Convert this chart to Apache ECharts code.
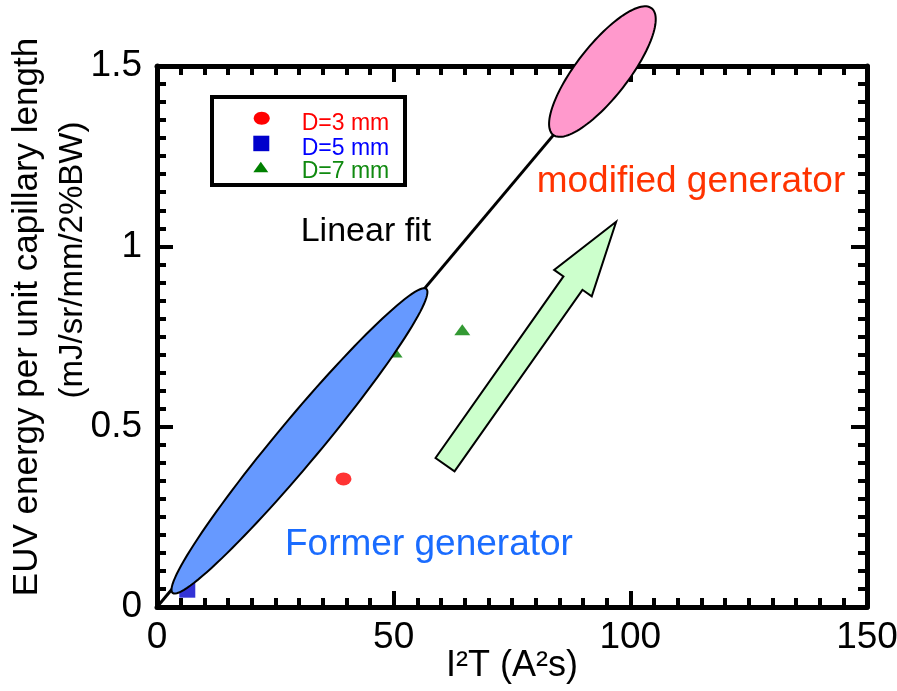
<!DOCTYPE html>
<html><head><meta charset="utf-8">
<script src="https://cdn.jsdelivr.net/npm/echarts@6/dist/echarts.min.js"></script>
<style>html,body{margin:0;padding:0;background:#fff}#c{width:897px;height:691px}</style>
</head><body><div id="c"></div>
<script>
// ---- data ----
const seriesD3 = [[39.4, 0.355]];
const seriesD5 = [[6.4, 0.048]];
const seriesD7 = [[50.2, 0.707], [64.5, 0.769]];
const linearFit = [[0, 0], [90, 1.406]];
const formerRegion = [3.3, 0.039, 56.9, 0.882];     // major-axis ends (x1,y1,x2,y2)
const modifiedRegion = [83.7, 1.309, 104.5, 1.660];
const improvementArrow = [60.85, 0.3945, 97.0, 1.068]; // tail -> tip
const xRange = [0, 150];
const yRange = [0, 1.5];
const legendNames = ['D=3 mm', 'D=5 mm', 'D=7 mm'];

const SANS = "'Liberation Sans',Arial,Helvetica,sans-serif";

const chart = echarts.init(document.getElementById('c'), null, {renderer: 'canvas'});

function axisCommon() {
  return {
    axisLine: {show: true, onZero: false, lineStyle: {color: '#000', width: 5}},
    axisTick: {show: true, inside: true, length: 16, lineStyle: {color: '#000', width: 4}},
    minorTick: {show: true, splitNumber: 10, length: 9, lineStyle: {color: '#000', width: 4}},
    splitLine: {show: false},
    minorSplitLine: {show: false}
  };
}

function ellipseRender(minorPx, fill) {
  return function (params, api) {
    const p1 = api.coord([api.value(0), api.value(1)]);
    const p2 = api.coord([api.value(2), api.value(3)]);
    const cx = (p1[0] + p2[0]) / 2, cy = (p1[1] + p2[1]) / 2;
    const dx = p2[0] - p1[0], dy = p2[1] - p1[1];
    const L = Math.sqrt(dx * dx + dy * dy);
    const ux = dx / L, uy = dy / L, nx = -uy, ny = ux;
    const a = L / 2, b = minorPx;
    const pts = [];
    for (let i = 0; i < 120; i++) {
      const t = i / 120 * Math.PI * 2;
      const ca = Math.cos(t) * a, sb = Math.sin(t) * b;
      pts.push([cx + ux * ca + nx * sb, cy + uy * ca + ny * sb]);
    }
    return {type: 'polygon', shape: {points: pts},
      style: {fill: fill, stroke: '#000', lineWidth: 2}};
  };
}

function arrowRender(params, api) {
  const p0 = api.coord([api.value(0), api.value(1)]);
  const p1 = api.coord([api.value(2), api.value(3)]);
  const dx = p1[0] - p0[0], dy = p1[1] - p0[1];
  const L = Math.sqrt(dx * dx + dy * dy);
  const ux = dx / L, uy = dy / L, nx = -uy, ny = ux;
  const w = 11.6, H = 23, headLen = 75;
  const nk = [p1[0] - ux * headLen, p1[1] - uy * headLen];
  const pts = [
    [p0[0] + nx * w, p0[1] + ny * w],
    [nk[0] + nx * w, nk[1] + ny * w],
    [nk[0] + nx * H, nk[1] + ny * H],
    [p1[0], p1[1]],
    [nk[0] - nx * H, nk[1] - ny * H],
    [nk[0] - nx * w, nk[1] - ny * w],
    [p0[0] - nx * w, p0[1] - ny * w]
  ];
  return {type: 'polygon', shape: {points: pts},
    style: {fill: '#ccffcc', stroke: '#000', lineWidth: 2}};
}

const ELLIPSE_SYMBOL = 'path://M0 50A50 50 0 1 1 100 50A50 50 0 1 1 0 50Z';

const option = {
  animation: false,
  backgroundColor: '#fff',
  grid: {left: 157, right: 30, top: 66, bottom: 84, containLabel: false, outerBoundsMode: 'none'},
  xAxis: [
    Object.assign({
      type: 'value', min: xRange[0], max: xRange[1], interval: 50, position: 'bottom',
      name: 'I²T (A²s)', nameLocation: 'middle', nameGap: 41, nameMoveOverlap: false,
      nameTextStyle: {fontFamily: SANS, fontSize: 36, color: '#000'},
      axisLabel: {show: true, margin: 12, fontFamily: SANS, fontSize: 37, color: '#000'}
    }, axisCommon()),
    Object.assign({
      type: 'value', min: xRange[0], max: xRange[1], interval: 50, position: 'top',
      axisLabel: {show: false}
    }, axisCommon())
  ],
  yAxis: [
    Object.assign({
      type: 'value', min: yRange[0], max: yRange[1], interval: 0.5, position: 'left',
      axisLabel: {show: true, margin: 15, fontFamily: SANS, fontSize: 37, color: '#000'}
    }, axisCommon()),
    Object.assign({
      type: 'value', min: yRange[0], max: yRange[1], interval: 0.5, position: 'right',
      axisLabel: {show: false}
    }, axisCommon())
  ],
  series: [
    {type: 'line', name: 'Linear fit', data: linearFit, symbol: 'none', z: 2,
      lineStyle: {color: '#000', width: 3}},
    {type: 'scatter', name: legendNames[0], data: seriesD3, symbol: ELLIPSE_SYMBOL,
      symbolKeepAspect: false, symbolSize: [16, 13], itemStyle: {color: '#ff0000'}, z: 3},
    {type: 'scatter', name: legendNames[1], data: seriesD5, symbol: 'rect',
      symbolSize: 16, itemStyle: {color: '#0000cc'}, z: 3},
    {type: 'scatter', name: legendNames[2], data: seriesD7, symbol: 'triangle',
      symbolSize: [16, 11], itemStyle: {color: '#008000'}, z: 3},
    {type: 'custom', name: 'Former generator', data: [formerRegion], z: 5, clip: false,
      encode: {x: [0, 2], y: [1, 3]}, renderItem: ellipseRender(22, '#6699ff')},
    {type: 'custom', name: 'modified generator', data: [modifiedRegion], z: 5, clip: false,
      encode: {x: [0, 2], y: [1, 3]}, renderItem: ellipseRender(26, '#ff99cc')},
    {type: 'custom', name: 'arrow', data: [improvementArrow], z: 5, clip: false,
      encode: {x: [0, 2], y: [1, 3]}, renderItem: arrowRender}
  ],
  graphic: [
    {type: 'text', x: 27, y: 317, rotation: Math.PI / 2, z: 10,
      style: {text: 'EUV energy per unit capillary length', fontFamily: SANS, fontSize: 35,
        fill: '#000', align: 'center', verticalAlign: 'middle'}},
    {type: 'text', x: 73, y: 260, rotation: Math.PI / 2, z: 10,
      style: {text: '(mJ/sr/mm/2%BW)', fontFamily: SANS, fontSize: 33,
        fill: '#000', align: 'center', verticalAlign: 'middle'}},
    {type: 'text', x: 300.7, y: 232, z: 10,
      style: {text: 'Linear fit', fontFamily: SANS, fontSize: 34, fill: '#000',
        align: 'left', verticalAlign: 'middle'}},
    {type: 'text', x: 536.7, y: 182, z: 10,
      style: {text: 'modified generator', fontFamily: SANS, fontSize: 37, fill: '#ff3300',
        align: 'left', verticalAlign: 'middle'}},
    {type: 'text', x: 285, y: 545, z: 10,
      style: {text: 'Former generator', fontFamily: SANS, fontSize: 37, fill: '#1a6cff',
        align: 'left', verticalAlign: 'middle'}},
    {type: 'group', z: 20, children: [
      {type: 'rect', shape: {x: 212, y: 97, width: 193, height: 88},
        style: {fill: '#fff', stroke: '#000', lineWidth: 4}, z: 20},
      {type: 'ellipse', shape: {cx: 261.7, cy: 118.3, rx: 8, ry: 6.5},
        style: {fill: '#ff0000'}, z: 21},
      {type: 'rect', shape: {x: 253.3, y: 135.7, width: 16, height: 15.5},
        style: {fill: '#0000cc'}, z: 21},
      {type: 'polygon', shape: {points: [[253.3, 172.3], [268.3, 172.3], [260.8, 161.7]]},
        style: {fill: '#008000'}, z: 21},
      {type: 'text', x: 301.7, y: 124, z: 21,
        style: {text: legendNames[0], fontFamily: SANS, fontSize: 23, fill: '#ff0000',
          align: 'left', verticalAlign: 'middle'}},
      {type: 'text', x: 301.7, y: 149, z: 21,
        style: {text: legendNames[1], fontFamily: SANS, fontSize: 23, fill: '#0000ff',
          align: 'left', verticalAlign: 'middle'}},
      {type: 'text', x: 301.7, y: 172, z: 21,
        style: {text: legendNames[2], fontFamily: SANS, fontSize: 23, fill: '#108a10',
          align: 'left', verticalAlign: 'middle'}}
    ]}
  ]
};
chart.setOption(option);
</script>
</body></html>
